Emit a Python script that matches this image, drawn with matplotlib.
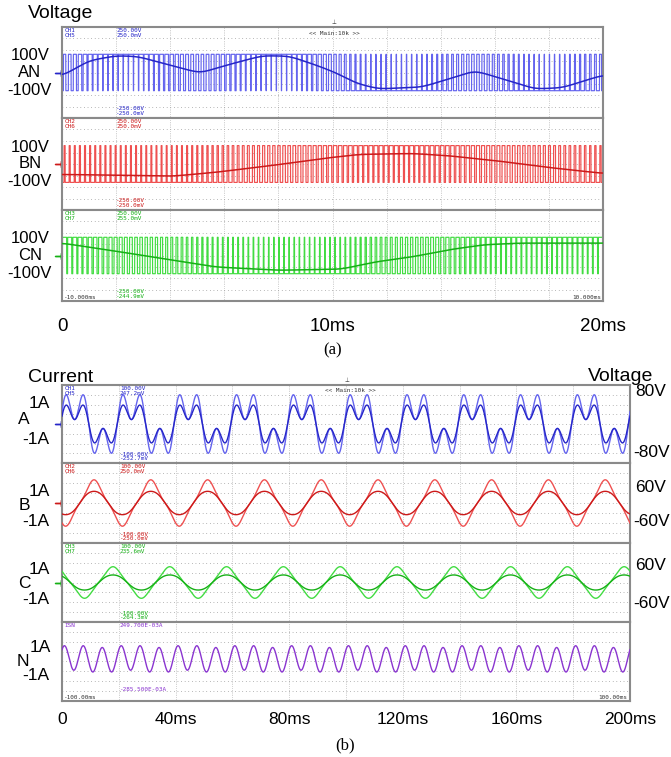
import numpy as np
import matplotlib.pyplot as plt

W, H = 671, 757

# ---------------- panel (a): inverter phase voltages, 20 ms window ----------------
a_span_ms = 20.0
a_names = ['AN', 'BN', 'CN']
a_ch_top = ['CH1\nCH5', 'CH2\nCH6', 'CH3\nCH7']
a_scale_top = ['250.00V\n250.0mV', '250.00V\n250.0mV', '250.00V\n255.0mV']
a_scale_bot = ['-250.00V\n-250.0mV', '-250.00V\n-250.0mV', '-250.00V\n-244.9mV']
a_tick_ms = [0, 10, 20]
a_tick_labels = ['0', '10ms', '20ms']

# low-frequency component: (fraction of sweep, volts)
an_keys_x = [0, 0.05, 0.10, 0.14, 0.20, 0.255, 0.31, 0.37, 0.42, 0.47, 0.505,
             0.545, 0.585, 0.665, 0.71, 0.763, 0.82, 0.874, 0.924, 1.0]
an_keys_v = [-19, 65, 92, 88, 40, -3, 45, 92, 90, 40, 0,
             -60, -90, -80, -40, 10, -40, -90, -84, -14]
bn_keys_x = [0, 0.086, 0.205, 0.284, 0.383, 0.482, 0.549, 0.648, 0.714, 0.81, 0.9, 1.0]
bn_keys_v = [-57, -60, -66, -45, -10, 30, 52, 57, 45, 15, -19, -51]
cn_keys_x = [0, 0.09, 0.185, 0.284, 0.40, 0.516, 0.58, 0.648, 0.714, 0.78, 0.846, 1.0]
cn_keys_v = [68, 28, -16, -63, -81, -75, -35, -7, 31, 59, 68, 68]
pwm_cycles = 106          # switching periods across the screen
pwm_level = 100           # V

# ---------------- panel (b): currents and voltages, 200 ms window ----------------
b_span_ms = 200.0
b_names = ['A', 'B', 'C']
b_ch_top = ['CH1\nCH5', 'CH2\nCH6', 'CH3\nCH7']
b_scale_top = ['100.00V\n247.2mV', '100.00V\n250.0mV', '100.00V\n235.6mV']
b_scale_bot = ['-100.00V\n-252.7mV', '-100.00V\n-250.0mV', '-100.00V\n-264.3mV']
b_cycles = 10
b_phase_deg = [10, -113, 127]
b_volt_amp = [75, 58, 40]          # V
b_volt_h3 = [0.80, -0.12, -0.08]
b_curr_amp = [1.2, 0.73, 0.45]     # A
b_curr_h3 = [0.70, 0.03, 0.03]
b_curr_full = [2.472, 2.500, 2.356]  # A at top of strip
b_right_top = ['80V', '60V', '60V']
b_right_bot = ['-80V', '-60V', '-60V']
b_tick_ms = [0, 40, 80, 120, 160, 200]
b_tick_labels = ['0', '40ms', '80ms', '120ms', '160ms', '200ms']

n_cycles = 30
n_phase_deg = 45
n_amp = 0.085      # A
n_ripple = 0.008   # A, 50 Hz part
n_lim = (-0.2855, 0.2497)

# colours: (switching / voltage trace, low-freq / current trace)
blue = ('#6464ee', '#2626c8')
red = ('#ef5050', '#cc1a1a')
green = ('#42dc42', '#16b016')
purple = '#8a35d0'

fig = plt.figure(figsize=(W / 100, H / 100), dpi=100)
fig.patch.set_facecolor('white')
sans = 'Liberation Sans'
mono = 'DejaVu Sans Mono'


def px_text(x, y, s, **kw):
    kw.setdefault('family', sans)
    kw.setdefault('va', 'center')
    fig.text(x / W, 1 - y / H, s, **kw)


def make_strip(x0, y0, x1, y1, xlim, ylim):
    ax = fig.add_axes([x0 / W, 1 - y1 / H, (x1 - x0) / W, (y1 - y0) / H])
    ax.set_xlim(xlim)
    ax.set_ylim(ylim)
    ax.set_xticks([])
    ax.set_yticks([])
    for s in ax.spines.values():
        s.set_color('#8a8a8a')
        s.set_linewidth(1.5)
    for x in np.linspace(xlim[0], xlim[1], 11)[1:-1]:
        ax.axvline(x, color='#9a9a9a', lw=0.6, ls=(0, (0.6, 1.6)), zorder=0)
    for y in np.linspace(ylim[0], ylim[1], 9)[1:-1]:
        ax.axhline(y, color='#9a9a9a', lw=0.7, ls=(0, (0.7, 3.0)), zorder=0)
    return ax


def scope_label(ax, x, y, s, color, va='top', ha='left'):
    ax.text(x, y, s, transform=ax.transAxes, fontsize=4.3, family=mono,
            color=color, va=va, ha=ha, linespacing=0.85, zorder=5)


def ground_mark(ax, y, color):
    ax.plot([-0.007], [y], transform=ax.get_yaxis_transform(), marker='$\\dashv$',
            ms=5, color=color, clip_on=False, lw=0)


def smooth(y, k):
    pad = np.pad(y, k // 2, mode='edge')
    return np.convolve(pad, np.ones(k) / k, mode='valid')


def slow_wave(t, span, keys_x, keys_v):
    raw = np.interp(t / span, keys_x, keys_v)
    return smooth(smooth(raw, 601), 601)


def harmonic(t, span, cycles, phase_deg, h3):
    th = 2 * np.pi * cycles * t / span + np.radians(phase_deg)
    grid = np.linspace(0, 2 * np.pi, 2000)
    norm = np.max(np.abs(np.sin(grid) + h3 * np.sin(3 * grid)))
    return (np.sin(th) + h3 * np.sin(3 * th)) / norm


# ---------------- draw panel (a) ----------------
a_edges = [27, 118, 210, 301]
a_x0, a_x1 = 62, 603
a_keys = [(an_keys_x, an_keys_v), (bn_keys_x, bn_keys_v), (cn_keys_x, cn_keys_v)]
a_cols = [blue, red, green]
t_a = np.linspace(0, a_span_ms, 24000)
tri = 2 * np.abs(2 * ((t_a / a_span_ms * pwm_cycles) % 1) - 1) - 1

for i in range(3):
    ax = make_strip(a_x0, a_edges[i], a_x1, a_edges[i + 1], (0, a_span_ms), (-250, 250))
    c_sw, c_lo = a_cols[i]
    m = slow_wave(t_a, a_span_ms, *a_keys[i])
    pwm = np.where(m / pwm_level > tri, pwm_level, -pwm_level)
    ax.plot(t_a, pwm, color=c_sw, lw=0.85, zorder=2)
    ax.plot(t_a, m, color=c_lo, lw=1.1, zorder=3)
    scope_label(ax, 0.004, 0.985, a_ch_top[i], c_lo)
    scope_label(ax, 0.10, 0.985, a_scale_top[i], c_lo)
    scope_label(ax, 0.10, 0.025, a_scale_bot[i], c_lo, va='bottom')
    ground_mark(ax, 0, c_lo)
    yc = (a_edges[i] + a_edges[i + 1]) / 2
    px_text(30, yc - 17, '100V', ha='center', fontsize=12)
    px_text(30, yc, a_names[i], ha='center', fontsize=12)
    px_text(29, yc + 18, '-100V', ha='center', fontsize=12)
    if i == 0:
        ax.text(0.503, 0.93, '<< Main:10k >>', transform=ax.transAxes, fontsize=4.3,
                family=mono, ha='center', va='center', color='#333333')
        ax.text(0.503, 1.02, '\u22a5', transform=ax.transAxes, fontsize=4,
                ha='center', va='bottom', color='#333333')
    if i == 2:
        scope_label(ax, 0.004, 0.01, '-10.000ms', '#333333', va='bottom')
        scope_label(ax, 0.996, 0.01, '10.000ms', '#333333', va='bottom', ha='right')
        ax.set_xticks(a_tick_ms)
        ax.set_xticklabels(a_tick_labels, family=sans, fontsize=13.5)
        ax.tick_params(axis='x', length=0, pad=12)

px_text(28, 13, 'Voltage', ha='left', fontsize=14)
px_text(333, 350, '(a)', ha='center', fontsize=12, family='Liberation Serif')

# ---------------- draw panel (b) ----------------
b_edges = [385, 463, 543, 622, 701]
b_x0, b_x1 = 62, 630
t_b = np.linspace(0, b_span_ms, 8000)
b_cols = [blue, red, green]
left_lbl = [(404, 420, 440), (492, 506, 521), (569, 583, 600)]
right_lbl = [(392, 453), (488, 522), (566, 603)]

for i in range(3):
    ax = make_strip(b_x0, b_edges[i], b_x1, b_edges[i + 1], (0, b_span_ms), (-100, 100))
    c_v, c_i = b_cols[i]
    v = b_volt_amp[i] * harmonic(t_b, b_span_ms, b_cycles, b_phase_deg[i], b_volt_h3[i])
    cur = b_curr_amp[i] * harmonic(t_b, b_span_ms, b_cycles, b_phase_deg[i], b_curr_h3[i])
    ax.plot(t_b, v, color=c_v, lw=1.0, zorder=3)
    ax.plot(t_b, cur / b_curr_full[i] * 100, color=c_i, lw=1.0, zorder=3)
    scope_label(ax, 0.004, 0.985, b_ch_top[i], c_i)
    scope_label(ax, 0.102, 0.985, b_scale_top[i], c_i)
    scope_label(ax, 0.102, 0.025, b_scale_bot[i], c_i, va='bottom')
    ground_mark(ax, 0, c_i)
    y1a, ylet, ym1a = left_lbl[i]
    px_text(39, y1a, '1A', ha='center', fontsize=12.5)
    px_text(24, ylet, b_names[i], ha='center', fontsize=12.5)
    px_text(36, ym1a, '-1A', ha='center', fontsize=12.5)
    px_text(635, right_lbl[i][0], b_right_top[i], ha='left', fontsize=12.5)
    px_text(633, right_lbl[i][1], b_right_bot[i], ha='left', fontsize=12.5)
    if i == 0:
        ax.text(0.507, 0.93, '<< Main:10k >>', transform=ax.transAxes, fontsize=4.3,
                family=mono, ha='center', va='center', color='#333333')
        ax.text(0.501, 1.02, '\u22a5', transform=ax.transAxes, fontsize=4,
                ha='center', va='bottom', color='#333333')

ax = make_strip(b_x0, b_edges[3], b_x1, b_edges[4], (0, b_span_ms), n_lim)
th_n = 2 * np.pi * n_cycles * t_b / b_span_ms + np.radians(n_phase_deg)
i_n = n_amp * np.sin(th_n) + n_ripple * np.sin(th_n / 3)
ax.plot(t_b, i_n, color=purple, lw=1.0, zorder=3)
scope_label(ax, 0.004, 0.985, 'ISN', purple)
scope_label(ax, 0.102, 0.985, '249.700E-03A', purple)
scope_label(ax, 0.102, 0.12, '-285.500E-03A', purple, va='bottom')
scope_label(ax, 0.004, 0.01, '-100.00ms', '#333333', va='bottom')
scope_label(ax, 0.996, 0.01, '100.00ms', '#333333', va='bottom', ha='right')
px_text(40, 648, '1A', ha='center', fontsize=12.5)
px_text(23, 661, 'N', ha='center', fontsize=12.5)
px_text(36, 675, '-1A', ha='center', fontsize=12.5)
ax.set_xticks(b_tick_ms)
ax.set_xticklabels(b_tick_labels, family=sans, fontsize=12.5)
ax.tick_params(axis='x', length=0, pad=8)

px_text(28, 377, 'Current', ha='left', fontsize=14)
px_text(588, 376, 'Voltage', ha='left', fontsize=14)
px_text(345, 745, '(b)', ha='center', fontsize=12, family='Liberation Serif')

fig.savefig('out.png', dpi=100, facecolor='white')
